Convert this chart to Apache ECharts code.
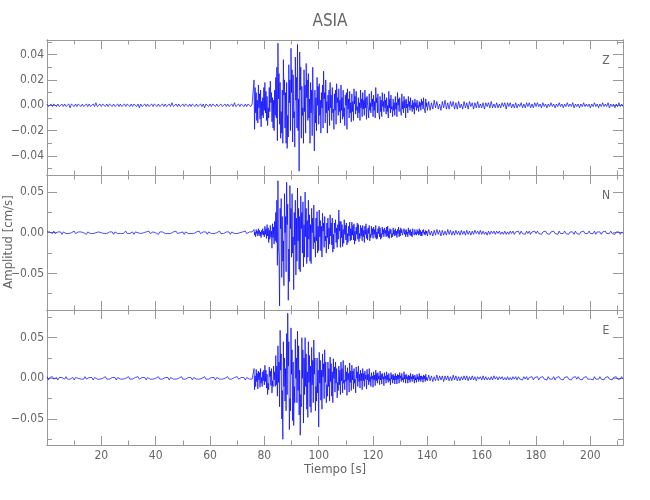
<!DOCTYPE html>
<html><head><meta charset="utf-8">
<script src="https://cdn.jsdelivr.net/npm/echarts@6/dist/echarts.min.js"></script>
<style>html,body{margin:0;padding:0;background:#fff}#c{width:650px;height:500px}</style>
</head><body><div id="c"></div>
<script>
// Amplitude arrays are in units of 10^-3 cm/s
const AMP_UNIT = 0.001;
// Sampling grid (s): pre-event noise, main phase, coda
const PRE_START = 0, PRE_STEP = 0.5;
const MAIN_START = 76.2, MAIN_STEP = 0.2;
const POST_START = 140.5, POST_STEP = 0.5;

const titleText = 'ASIA';
const xLabel = 'Tiempo [s]';
const yLabel = 'Amplitud [cm/s]';
const components = ['Z', 'N', 'E'];

const xMin = 0, xMax = 212;
const xMajor = [20,40,60,80,100,120,140,160,180,200];
const xMinor = [10,30,50,70,90,110,130,150,170,190,210];

const yMin = [-0.055, -0.095, -0.082];
const yMax = [0.0515, 0.071, 0.084];
const yMajor = [[-0.04,-0.02,0,0.02,0.04],[-0.05,0,0.05],[-0.05,0,0.05]];
const yMinor = [[-0.05,-0.03,-0.01,0.01,0.03,0.05],[-0.075,-0.025,0.025,0.075],[-0.075,-0.025,0.025,0.075]];

const zPre = [1,-1,0,1,-1,1,0,-1,1,-1, 0,1,-1,1,-1,0,1,-2,1,0, -1,1,-1,1,0,-1,1,-1,0,1,
  -1,1,-1,0,1,-1,2,-1,0,1, -1,1,0,-1,1,-1,1,0,-1,1, -1,0,1,-1,1,-1,0,1,-1,1,
  0,-1,1,-1,1,0,-1,1,-2,1, -1,0,1,-1,1,-1,0,1,-1,1, 0,-1,1,-1,0,1,-1,1,-1,0,
  1,-1,2,-1,0,1,-1,1,-1,0, 1,-1,1,0,-1,1,-1,1,0,-1, 1,-1,0,1,-1,1,-2,1,0,-1,
  1,-1,1,0,-1,1,-1,0,1,-1, 0,1,-1,1,-1,0,1,-1,2,-1, 0,1,-1,1,0,-1,1,-1,1,0, -1,1,0];
const zMain = [
  20,-19,14,-6,10,-12,4,-14,16,-2, 9,-11,12,-17,3,-8,6,-10,14,-4,
  18,-6,11,-12,7,-16,-2,-10,14,-5, 19,2,10,-13,6,-18,4,-20,12,-8,
  22,-10,30,-28,49,5,25,-15,18,-26, -5,-22,12,-30,36,8,20,-18,10,-30,
  18,-34,-8,-25,32,2,20,-20,45,10, 28,-29,24,-10,-5,-33,38,4,22,-18,
  48,-20,5,-52,42,12,30,-26,15,-8, -2,-30,28,-5,16,-22,33,6,20,-12,
  25,-10,5,-30,18,-6,12,-24,30,2, -8,-36,12,-14,6,-20,22,0,15,-15,
  17,-8,4,-22,10,-2,16,-18,27,5, 10,-14,20,-6,3,-22,8,-4,12,-16,
  18,-2,8,-12,14,-6,-3,-19,9,-4, 12,-15,17,2,6,-8,13,-5,4,-14,
  16,-4,6,-11,12,-9,-2,-16,8,0, 10,-19,13,-3,5,-10,11,-6,2,-13,
  9,-5,3,-12,13,1,7,-7,11,-4, -1,-10,6,-6,2,-12,12,-2,5,-9,
  10,-3,4,-8,12,-2,6,-11,7,0, -3,-10,9,-4,2,-6,11,-1,5,-9,
  8,-4,3,-10,14,2,6,-6,9,-3, -2,-11,7,-5,4,-9,10,-1,3,-5,
  9,-2,4,-7,6,-5,0,-10,11,-2, 5,-6,8,-3,-1,-9,5,-4,2,-8,
  7,-3,2,-9,10,0,5,-5,6,-2, -1,-8,9,-3,3,-6,7,-2,4,-10,
  5,-2,1,-6,7,-1,3,-4,6,-2, 0,-5,4,-3,2,-7,5,-1,2,-4,
  4,-2,0,-5,3,-1,2,-4,5,0, 3,-3,6,-2,-1,-6,5,-1,2,-4];
const zPost = [3,-4,2,-3,4,-2,3,-3,1,-4, 3,-2,4,-3,2,-3,3,-1,3,-3, 2,-3,3,-2,1,-3,3,-2,2,-3,
  3,-1,2,-3,2,-2,3,-2,1,-2, 2,-3,2,-1,2,-2,3,-2,1,-2, 2,-2,1,-2,2,-1,2,-3,2,-1,
  2,-2,1,-2,2,-2,1,-1,2,-2, 1,-2,2,-1,2,-2,1,-2,2,-1, 2,-1,1,-2,2,-1,1,-2,1,-1,
  2,-1,1,-2,1,-1,2,-1,1,-2, 1,-1,2,-1,1,-1,2,-2,1,-1, 1,-2,1,-1,2,-1,1,-1,1,-2,
  1,-1,2,-1,1,-2,1,-1,2,-1, 1,-1,2,-2,1,-1,1,-2,1,-1, 2,-1,1,-1];

const nPre = [1,-1,1,0,-1,2,-1,0,1,-1, 1,-2,1,0,-1,1,-1,1,0,-1, 2,-1,0,1,-1,1,-1,0,1,-2,
  1,0,-1,1,-1,1,0,-1,1,-1, 0,2,-1,1,-1,0,1,-1,1,-2, 1,0,-1,1,-1,1,-1,0,2,-1,
  1,-1,0,1,-2,1,-1,0,1,-1, 1,0,-1,1,-1,2,-1,0,1,-1, 0,1,-2,1,-1,1,0,-1,1,-1,
  1,-1,0,1,-1,2,-1,1,0,-1, 1,-2,1,0,-1,1,-1,1,-1,0, 1,-1,2,-1,0,1,-1,1,-2,1,
  0,-1,1,-1,1,0,-1,2,-1,1, -1,0,1,-1,1,-2,1,0,-1,1, -1,1,0,-1,1,-1,2,-1,0,1, -1,1,0];
const nMain = [
  4,-3,1,-5,4,-1,2,-4,5,-2, 3,-4,1,-6,3,-2,5,-3,2,-5,
  8,-2,5,-7,10,-4,6,-12,3,-8, 9,-5,2,-19,11,-6,7,-14,14,-10,
  25,-12,40,-40,64,-20,-30,-90,30,5, 42,-55,20,-35,-10,-65,48,0,20,-48,
  62,10,35,-83,-20,-60,58,5,30,-30, 48,-25,-5,-70,25,-15,40,-52,18,-35,
  55,-10,30,-45,20,-48,45,5,25,-25, 38,-42,10,-30,50,-5,30,-38,15,-30,
  40,-8,22,-35,10,-38,30,0,18,-20, 34,-12,-5,-30,18,-10,26,-25,8,-22,
  28,-5,15,-22,8,-30,24,2,12,-18, 20,-10,-4,-25,12,-6,18,-20,6,-14,
  22,-4,12,-15,18,-24,-2,-20,12,0, 16,-12,6,-18,10,-8,28,2,14,-18,
  14,-6,10,-17,4,-13,16,-2,9,-9, 12,-15,-1,-12,8,-4,13,-10,5,-9,
  13,-3,9,-9,11,-14,2,-10,7,-2, 12,-8,10,-11,-1,-7,9,-4,6,-10,
  9,-5,3,-12,8,-2,11,-7,4,-9, 6,-1,9,-10,-2,-6,8,-3,5,-7,
  7,-2,4,-6,9,-8,1,-7,5,-1, 8,-5,6,-8,-1,-6,7,-2,4,-5,
  6,-1,3,-5,7,-4,8,-6,2,-7, 5,-1,4,-6,-1,-5,6,-2,3,-4,
  5,-3,2,-6,4,-1,7,-5,3,-4, 6,0,4,-3,-1,-5,5,-2,3,-5,
  4,-2,1,-5,6,-1,3,-3,4,-4, 1,-5,5,0,2,-3,4,-2,1,-3,
  4,-1,2,-3,5,-2,3,-4,1,-4, 3,0,4,-2,1,-3,3,-1,2,-4];
const nPost = [4,-3,2,-4,3,-3,4,-2,3,-4, 3,-3,2,-3,4,-2,3,-3,2,-3, 3,-2,2,-3,3,-2,2,-3,3,-2,
  2,-3,2,-2,3,-1,2,-2,3,-2, 2,-2,1,-3,2,-2,2,-1,2,-2, 2,-1,2,-2,1,-2,2,-2,1,-2,
  2,-1,2,-2,1,-1,2,-2,2,-1, 1,-2,2,-1,2,-2,1,-1,2,-1, 2,-1,1,-2,1,-1,2,-1,1,-2,
  1,-1,2,-1,1,-2,2,-1,1,-1, 2,-1,1,-2,1,-1,1,-2,2,-1, 1,-2,1,-1,2,-1,1,-1,2,-1,
  1,-1,2,-2,1,-1,1,-2,1,-1, 2,-1,1,-1,2,-1,1,-2,1,-1, 1,-2,1,-1];

const ePre = [2,-2,1,-1,2,-1,0,1,-2,1, -1,1,0,-1,2,-1,1,-1,0,1, -2,1,-1,0,1,-1,1,-1,2,-1,
  0,1,-1,1,-2,1,0,-1,1,-1, 1,0,-1,2,-1,1,-1,0,1,-1, 1,-2,1,0,-1,1,-1,1,0,-1,
  2,-1,1,-1,0,1,-1,2,-1,0, 1,-1,1,-2,1,0,-1,1,-1,1, 0,-1,2,-1,1,-1,0,1,-1,1,
  -2,1,0,-1,1,-1,1,0,-1,2, -1,1,-1,0,1,-1,1,-2,1,0, -1,1,-1,1,0,-1,2,-1,1,-1,
  0,1,-1,1,-2,1,0,-1,1,-1, 1,0,-1,2,-1,1,-1,0,1,-1, 2,-1,0,1,-1,1,-2,1,0,-1, 1,-1,0];
const eMain = [
  12,-14,3,-10,11,-4,6,-13,9,-2, 7,-11,12,-6,1,-10,8,-3,10,-8,
  16,-4,10,-12,5,-20,-6,-14,14,2, 9,-9,12,-18,-3,-10,15,-2,8,-10,
  28,-8,15,-22,40,-5,20,-35,59,10, 30,-50,-15,-75,45,-10,25,-28,12,-40,
  55,-20,80,15,45,-63,-25,-40,62,5, 35,-52,20,-58,-10,-30,48,0,25,-30,
  58,-15,40,-45,10,-70,-20,-35,50,0, 35,-55,25,-20,50,-10,30,-38,8,-48,
  45,-5,28,-35,15,-42,38,-8,22,-30, 47,5,25,-40,-10,-28,25,-18,10,-60,
  32,-6,22,-27,10,-38,30,2,18,-25, 35,-5,20,-30,-8,-22,20,-10,12,-28,
  26,-4,18,-22,8,-30,24,0,14,-17, 20,-6,12,-24,-5,-15,15,-8,10,-20,
  20,-3,12,-18,22,-6,-2,-14,16,-4, 8,-21,13,-2,6,-17,19,-5,9,-15,
  16,-2,9,-13,12,-6,-1,-18,14,0, 8,-10,15,-4,5,-12,10,-3,6,-14,
  12,-3,6,-10,9,-1,4,-13,11,-2, 5,-8,12,-4,2,-10,7,-1,3,-11,
  8,-2,4,-9,10,-3,6,-6,7,-1, 3,-8,9,-2,5,-7,6,-1,2,-9,
  7,-1,3,-6,8,-2,4,-5,6,-3, 0,-8,7,-1,4,-6,5,-2,3,-7,
  6,-2,3,-7,5,-1,4,-6,7,0, 3,-4,6,-2,1,-5,8,-1,4,-6,
  5,-1,2,-6,4,-2,3,-5,6,-1, 2,-4,5,-1,3,-6,4,-2,1,-5,
  5,-1,2,-4,6,-2,3,-4,3,-1, 2,-5,4,-1,3,-4,5,-2,1,-3];
const ePost = [4,-3,3,-4,2,-3,4,-3,3,-2, 3,-4,3,-2,3,-3,2,-3,4,-2, 3,-3,2,-3,2,-2,3,-2,3,-3,
  2,-2,3,-2,2,-3,2,-1,2,-2, 3,-2,2,-2,1,-2,2,-2,3,-1, 2,-2,2,-1,2,-2,1,-2,2,-2,
  1,-2,2,-1,2,-2,2,-1,1,-2, 2,-1,2,-2,1,-1,2,-2,1,-1, 2,-2,1,-1,2,-1,1,-2,2,-1,
  1,-1,2,-2,1,-1,2,-1,1,-2, 1,-1,2,-1,1,-2,1,-1,2,-1, 2,-1,1,-2,1,-1,2,-1,1,-1,
  1,-2,2,-1,1,-1,2,-1,1,-2, 1,-1,2,-1,1,-2,1,-1,2,-1, 1,-1,2,-1];

const traces = [[zPre, zMain, zPost], [nPre, nMain, nPost], [ePre, eMain, ePost]];

function buildTrace(pre, main, post) {
  const out = [];
  pre.forEach((v, i) => out.push([PRE_START + i * PRE_STEP, v * AMP_UNIT]));
  main.forEach((v, i) => out.push([MAIN_START + i * MAIN_STEP, v * AMP_UNIT]));
  post.forEach((v, i) => out.push([POST_START + i * POST_STEP, v * AMP_UNIT]));
  return out;
}

const FONT = "'Liberation Sans Narrow','DejaVu Sans Condensed','Roboto Condensed',sans-serif";
const TXT = '#666';
const AX = '#999';
const gridTop = [40, 175, 310];
const grids = gridTop.map(t => ({ left: 47, right: 27, top: t, height: 135 }));
const fmt = v => (v < 0 ? '\u2212' : '') + Math.abs(v).toFixed(2);

const xAxes = [], yAxes = [], series = [];
grids.forEach((g, gi) => {
  const inRange = arr => arr.filter(v => v >= yMin[gi] && v <= yMax[gi]);
  const base = { type: 'value', gridIndex: gi, min: xMin, max: xMax, splitLine: { show: false },
    axisLine: { show: true, onZero: false, lineStyle: { color: AX, width: 1 } } };
  [['bottom', xMajor, 9, gi === 2], ['bottom', xMinor, 4.5, false], ['top', xMajor, 9, false], ['top', xMinor, 4.5, false]]
    .forEach(([pos, vals, len, lab]) => {
      xAxes.push(Object.assign({}, base, { position: pos,
        axisTick: { show: true, inside: true, length: len, customValues: vals, lineStyle: { color: AX } },
        axisLabel: { show: lab, customValues: vals, color: TXT, fontFamily: FONT, fontSize: 12, margin: 5 } }));
    });
  const ybase = { type: 'value', gridIndex: gi, min: yMin[gi], max: yMax[gi], splitLine: { show: false },
    axisLine: { show: true, onZero: false, lineStyle: { color: AX, width: 1 } } };
  [['left', yMajor[gi], 10, true], ['left', inRange(yMinor[gi]), 5, false], ['right', yMajor[gi], 10, false], ['right', inRange(yMinor[gi]), 5, false]]
    .forEach(([pos, vals, len, lab]) => {
      yAxes.push(Object.assign({}, ybase, { position: pos,
        axisTick: { show: true, inside: true, length: len, customValues: vals, lineStyle: { color: AX } },
        axisLabel: { show: lab, customValues: vals, formatter: fmt, color: TXT, fontFamily: FONT, fontSize: 12, margin: 3 } }));
    });
  series.push({ type: 'line', xAxisIndex: gi * 4, yAxisIndex: gi * 4, showSymbol: false, symbol: 'none',
    sampling: null, animation: false, clip: true,
    lineStyle: { color: '#0000ff', width: 0.7 },
    data: buildTrace(...traces[gi]) });
});

const graphic = [
  { type: 'text', x: 330, y: 22, style: { text: titleText, fill: TXT, font: '17px ' + FONT, textAlign: 'center', textVerticalAlign: 'middle' } },
  { type: 'text', x: 335, y: 470, style: { text: xLabel, fill: TXT, font: '13px ' + FONT, textAlign: 'center', textVerticalAlign: 'middle' } },
  { type: 'text', x: 9, y: 242, rotation: Math.PI / 2, style: { text: yLabel, fill: TXT, font: '13px ' + FONT, textAlign: 'center', textVerticalAlign: 'middle' } }
];
components.forEach((c, i) => graphic.push({ type: 'text', x: 606, y: gridTop[i] + 21,
  style: { text: c, fill: TXT, font: '12px ' + FONT, textAlign: 'center', textVerticalAlign: 'middle' } }));

const chart = echarts.init(document.getElementById('c'), null, { renderer: 'canvas' });
chart.setOption({ animation: false, backgroundColor: '#fff', grid: grids, xAxis: xAxes, yAxis: yAxes, series, graphic });
</script></body></html>
